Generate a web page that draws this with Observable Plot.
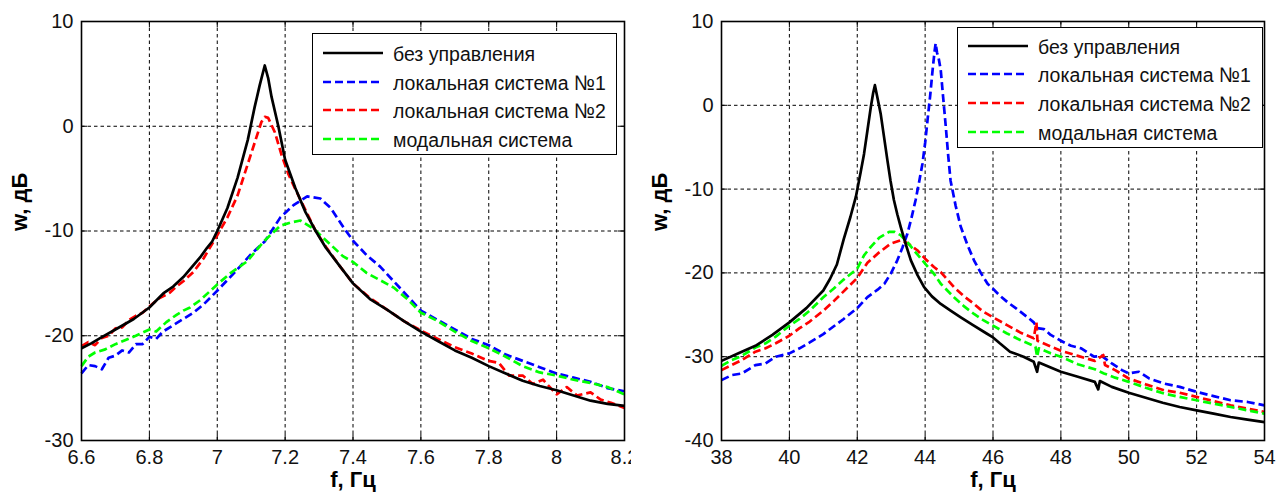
<!DOCTYPE html>
<html>
<head>
<meta charset="utf-8">
<script src="https://cdn.jsdelivr.net/npm/d3@7"></script>
<script src="https://cdn.jsdelivr.net/npm/@observablehq/plot@0.6"></script>
<style>
  html, body { margin: 0; padding: 0; background: #fff; }
  #root { position: relative; width: 1276px; height: 496px; overflow: hidden; font-family: "Liberation Sans", Arial, sans-serif; }
  .panel { position: absolute; top: 0; height: 496px; overflow: hidden; }
  .legend { position: absolute; background: #fff; border: 1.5px solid #000; box-sizing: border-box; }
  .legend .row { position: absolute; left: 0; height: 28px; display: flex; align-items: center; }
  .legend .row svg { display: block; }
  .legend .row span { font-size: 19.5px; color: #111; white-space: nowrap; margin-left: 10px; display: inline-block; transform: scaleY(1.08); }
</style>
</head>
<body>
<div id="root">
  <div class="panel" id="left" style="left:0;width:631px"></div>
  <div class="panel" id="right" style="left:640px;width:636px"></div>
</div>
<script>
// ---------- DATA ----------
const seriesNames = ["без управления", "локальная система №1", "локальная система №2", "модальная система"];
const seriesColors = ["#000000", "#0000ff", "#ff0000", "#00ff00"];

const leftXTicks = [6.6, 6.8, 7, 7.2, 7.4, 7.6, 7.8, 8, 8.2];
const leftYTicks = [-30, -20, -10, 0, 10];
const rightXTicks = [38, 40, 42, 44, 46, 48, 50, 52, 54];
const rightYTicks = [-40, -30, -20, -10, 0, 10];

// left panel: [f, w]
const leftNone = [[6.60,-21.2],[6.63,-20.7],[6.656,-20.2],[6.70,-19.4],[6.754,-18.4],[6.80,-17.3],[6.843,-15.9],[6.87,-15.3],[6.90,-14.4],[6.95,-12.5],[6.97,-11.6],[6.985,-11.0],[7.00,-10.0],[7.03,-7.8],[7.06,-4.9],[7.09,-1.3],[7.11,1.8],[7.125,3.9],[7.14,5.8],[7.15,4.6],[7.16,2.8],[7.18,0.0],[7.20,-3.2],[7.23,-5.9],[7.26,-8.2],[7.29,-10.0],[7.32,-11.6],[7.36,-13.3],[7.40,-15.0],[7.45,-16.5],[7.50,-17.5],[7.55,-18.6],[7.60,-19.6],[7.65,-20.5],[7.70,-21.4],[7.75,-22.1],[7.80,-22.9],[7.85,-23.6],[7.90,-24.3],[7.95,-24.8],[8.00,-25.2],[8.05,-25.7],[8.10,-26.2],[8.15,-26.5],[8.20,-26.7]];
const leftLoc1 = [[6.60,-23.6],[6.62,-22.8],[6.64,-22.9],[6.66,-23.2],[6.68,-22.1],[6.70,-21.9],[6.72,-21.4],[6.74,-21.6],[6.76,-20.8],[6.78,-20.8],[6.80,-20.1],[6.82,-20.3],[6.84,-19.6],[6.87,-19.0],[6.90,-18.4],[6.93,-17.8],[6.96,-17.0],[7.00,-15.7],[7.05,-14.0],[7.10,-12.2],[7.14,-11.0],[7.186,-8.7],[7.226,-7.5],[7.265,-6.7],[7.304,-6.9],[7.334,-7.8],[7.373,-9.7],[7.402,-11.0],[7.44,-12.3],[7.48,-13.4],[7.52,-14.8],[7.56,-16.2],[7.60,-17.6],[7.65,-18.5],[7.70,-19.4],[7.75,-20.3],[7.80,-20.9],[7.85,-21.8],[7.90,-22.4],[7.95,-23.0],[8.00,-23.6],[8.05,-24.0],[8.10,-24.4],[8.15,-25.0],[8.20,-25.3]];
const leftLoc2 = [[6.60,-21.0],[6.62,-20.6],[6.64,-20.9],[6.66,-20.2],[6.68,-20.0],[6.70,-19.3],[6.72,-19.2],[6.74,-18.5],[6.76,-18.1],[6.78,-17.8],[6.80,-17.2],[6.83,-16.4],[6.86,-15.9],[6.88,-15.3],[6.90,-14.8],[6.93,-13.9],[6.96,-12.6],[7.00,-10.4],[7.03,-8.7],[7.06,-6.6],[7.09,-3.6],[7.11,-1.6],[7.13,0.4],[7.14,0.9],[7.15,0.8],[7.17,-0.6],[7.19,-2.8],[7.21,-4.6],[7.23,-6.0],[7.26,-8.0],[7.29,-10.0],[7.32,-11.5],[7.36,-13.3],[7.40,-15.0],[7.45,-16.4],[7.50,-17.5],[7.55,-18.6],[7.60,-19.5],[7.65,-20.3],[7.70,-21.1],[7.75,-21.7],[7.80,-22.4],[7.83,-22.6],[7.86,-23.8],[7.90,-23.8],[7.93,-24.6],[7.96,-24.2],[8.00,-25.6],[8.03,-24.9],[8.06,-25.7],[8.10,-25.4],[8.13,-26.1],[8.16,-26.4],[8.20,-26.9]];
const leftModal = [[6.60,-22.9],[6.62,-22.0],[6.64,-21.6],[6.67,-21.3],[6.70,-20.8],[6.73,-20.4],[6.76,-20.0],[6.80,-19.4],[6.82,-19.6],[6.85,-18.7],[6.88,-18.0],[6.90,-17.6],[6.92,-17.3],[6.95,-16.6],[6.98,-15.7],[7.00,-15.1],[7.04,-14.0],[7.088,-12.9],[7.137,-11.0],[7.186,-9.5],[7.215,-9.2],[7.245,-9.0],[7.284,-9.8],[7.334,-11.3],[7.37,-12.4],[7.402,-13.0],[7.44,-14.0],[7.48,-14.7],[7.52,-15.4],[7.56,-16.5],[7.60,-17.8],[7.65,-18.6],[7.70,-19.6],[7.75,-20.5],[7.80,-21.2],[7.85,-22.0],[7.90,-22.9],[7.95,-23.5],[8.00,-23.8],[8.05,-24.2],[8.10,-24.5],[8.15,-24.9],[8.20,-25.6]];

// right panel: [f, w]
const rightNone = [[38,-30.5],[38.5,-29.6],[39,-28.7],[39.5,-27.4],[40,-25.9],[40.5,-24.2],[41,-22.1],[41.2,-20.7],[41.4,-19.0],[41.6,-16.0],[41.8,-13.3],[41.96,-10.9],[42.1,-8.0],[42.2,-5.8],[42.3,-3.0],[42.4,-0.2],[42.47,1.5],[42.52,2.4],[42.58,1.2],[42.69,-1.0],[42.79,-3.8],[42.89,-6.6],[42.98,-9.0],[43.08,-11.3],[43.18,-13.0],[43.28,-14.5],[43.43,-16.6],[43.58,-18.5],[43.78,-20.3],[43.97,-21.7],[44.2,-22.8],[44.46,-23.7],[44.75,-24.5],[45.05,-25.3],[45.4,-26.2],[45.8,-27.2],[46.0,-27.7],[46.2,-28.4],[46.5,-29.4],[46.9,-30.0],[47.2,-30.6],[47.3,-31.8],[47.35,-30.7],[47.7,-31.3],[48.0,-31.8],[48.5,-32.4],[49.0,-33.0],[49.1,-33.9],[49.15,-32.9],[49.5,-33.6],[50.0,-34.3],[50.5,-34.9],[51.0,-35.5],[51.5,-36.0],[52.0,-36.4],[52.5,-36.8],[53.0,-37.2],[53.5,-37.5],[54.0,-37.8]];
const rightLoc1 = [[38,-32.8],[38.3,-32.2],[38.6,-32.0],[39,-31.0],[39.3,-30.8],[39.6,-30.0],[40,-29.6],[40.3,-29.0],[40.6,-28.3],[41,-27.3],[41.3,-26.4],[41.6,-25.5],[42,-24.2],[42.3,-22.9],[42.6,-22.0],[42.8,-21.3],[43.0,-20.0],[43.18,-18.5],[43.33,-17.0],[43.48,-15.3],[43.6,-13.4],[43.72,-11.3],[43.82,-9.2],[43.92,-7.0],[44.0,-4.5],[44.07,-1.8],[44.15,1.2],[44.22,4.2],[44.28,6.5],[44.31,7.4],[44.35,6.3],[44.4,5.6],[44.46,4.2],[44.53,1.0],[44.61,-2.6],[44.68,-6.0],[44.75,-9.0],[44.9,-12.0],[45.05,-14.5],[45.25,-16.7],[45.44,-18.5],[45.64,-20.0],[45.84,-21.3],[46.0,-21.9],[46.2,-22.7],[46.43,-23.5],[46.7,-24.3],[47.02,-25.3],[47.2,-25.9],[47.31,-26.6],[47.5,-26.7],[47.7,-27.4],[48.0,-28.1],[48.3,-28.7],[48.6,-29.0],[48.98,-30.0],[49.2,-29.9],[49.5,-30.8],[49.8,-31.6],[50.0,-32.0],[50.3,-31.8],[50.6,-32.6],[51.04,-33.2],[51.5,-33.6],[52.0,-34.2],[52.5,-34.7],[53.0,-35.2],[53.5,-35.4],[54.0,-35.8]];
const rightLoc2 = [[38,-31.6],[38.3,-31.0],[38.6,-30.4],[39,-29.4],[39.3,-29.0],[39.6,-28.4],[40,-27.5],[40.3,-26.6],[40.6,-25.8],[41,-24.5],[41.3,-23.4],[41.6,-22.2],[42.0,-20.6],[42.3,-18.8],[42.6,-17.7],[42.99,-16.5],[43.28,-16.1],[43.5,-16.5],[43.77,-17.3],[44.0,-18.3],[44.26,-19.3],[44.46,-19.9],[44.85,-21.7],[45.15,-22.8],[45.44,-23.7],[45.7,-24.6],[46.0,-25.3],[46.4,-26.2],[46.8,-27.1],[47.2,-27.8],[47.28,-25.9],[47.31,-28.1],[47.6,-28.6],[48.0,-29.3],[48.5,-29.9],[49.0,-30.5],[49.25,-29.8],[49.3,-31.0],[49.6,-31.6],[50.0,-32.6],[50.5,-33.3],[51.04,-34.0],[51.5,-34.3],[52.0,-34.8],[52.5,-35.3],[53.0,-35.8],[53.5,-36.2],[54.0,-36.6]];
const rightModal = [[38,-31.1],[38.3,-30.4],[38.6,-29.9],[39,-28.9],[39.3,-28.4],[39.6,-27.6],[40,-26.3],[40.3,-25.5],[40.6,-24.5],[41,-22.9],[41.3,-21.9],[41.6,-20.8],[42.0,-19.5],[42.2,-17.9],[42.4,-16.9],[42.65,-15.8],[42.94,-15.1],[43.1,-15.1],[43.28,-15.5],[43.47,-16.3],[43.67,-17.3],[44.0,-18.9],[44.26,-20.1],[44.46,-21.3],[44.85,-22.9],[45.15,-24.0],[45.44,-24.9],[45.7,-25.6],[46.0,-26.3],[46.4,-27.2],[46.8,-28.0],[47.25,-28.8],[47.3,-30.0],[47.35,-29.0],[47.7,-29.6],[48.0,-30.0],[48.5,-30.9],[49.0,-31.5],[49.27,-32.0],[49.6,-32.5],[50.0,-33.0],[50.5,-33.7],[51.04,-34.4],[51.5,-34.8],[52.0,-35.2],[52.5,-35.6],[53.0,-36.0],[53.5,-36.4],[54.0,-36.8]];

const xLabel = "f, Гц";
const yLabel = "w, дБ";

// ---------- DRAW ----------
function panel({width, marginLeft, marginRight, xDomain, yDomain, xTicks, yTicks, series}) {
  const marginTop = 21, marginBottom = 56, height = 496;
  const innerH = height - marginTop - marginBottom;
  const innerW = width - marginLeft - marginRight;
  const fmt = d => String(d);
  const lineMarks = series.map((s, i) => Plot.line(s, {
    x: d => d[0], y: d => d[1],
    stroke: seriesColors[i],
    strokeWidth: 2.7,
    strokeDasharray: i === 0 ? null : "8,4",
    strokeLinejoin: "round",
    strokeLinecap: "butt"
  }));
  return Plot.plot({
    width, height, marginLeft, marginRight, marginTop, marginBottom,
    style: {fontFamily: "'Liberation Sans', Arial, sans-serif", background: "transparent", color: "#111", overflow: "visible"},
    x: {domain: xDomain},
    y: {domain: yDomain},
    marks: [
      Plot.gridX({ticks: xTicks, stroke: "#000", strokeOpacity: 1, strokeWidth: 1, strokeDasharray: "3.5,3"}),
      Plot.gridY({ticks: yTicks, stroke: "#000", strokeOpacity: 1, strokeWidth: 1, strokeDasharray: "3.5,3"}),
      // inward tick marks on all four sides
      Plot.gridX({ticks: xTicks, stroke: "#000", strokeOpacity: 1, strokeWidth: 1, insetTop: innerH - 6}),
      Plot.gridX({ticks: xTicks, stroke: "#000", strokeOpacity: 1, strokeWidth: 1, insetBottom: innerH - 6}),
      Plot.gridY({ticks: yTicks, stroke: "#000", strokeOpacity: 1, strokeWidth: 1, insetRight: innerW - 6}),
      Plot.gridY({ticks: yTicks, stroke: "#000", strokeOpacity: 1, strokeWidth: 1, insetLeft: innerW - 6}),
      ...lineMarks.slice(1),
      lineMarks[0],
      Plot.frame({stroke: "#000", strokeWidth: 1.6}),
      Plot.axisX({ticks: xTicks, tickFormat: fmt, tickSize: 0, tickPadding: 9, fontSize: 20, label: null, fill: "#111"}),
      Plot.axisY({ticks: yTicks, tickFormat: fmt, tickSize: 0, tickPadding: 8, fontSize: 20, label: null, fill: "#111"}),
      Plot.text([xLabel], {text: d => d, frameAnchor: "bottom", dy: 46, fontSize: 22, fontWeight: "bold", fill: "#000"}),
      Plot.text([yLabel], {text: d => d, frameAnchor: "left", dx: -62, rotate: -90, fontSize: 22, fontWeight: "bold", fill: "#000"})
    ]
  });
}

document.getElementById("left").appendChild(panel({
  width: 631, marginLeft: 81, marginRight: 7,
  xDomain: [6.6, 8.2], yDomain: [-30, 10],
  xTicks: leftXTicks, yTicks: leftYTicks,
  series: [leftNone, leftLoc1, leftLoc2, leftModal]
}));
document.getElementById("right").appendChild(panel({
  width: 636, marginLeft: 81, marginRight: 12,
  xDomain: [38, 54], yDomain: [-40, 10],
  xTicks: rightXTicks, yTicks: rightYTicks,
  series: [rightNone, rightLoc1, rightLoc2, rightModal]
}));

function legend(left, top, w, h, rowTops) {
  const box = document.createElement("div");
  box.className = "legend";
  Object.assign(box.style, {left: left + "px", top: top + "px", width: w + "px", height: h + "px"});
  seriesNames.forEach((name, i) => {
    const row = document.createElement("div");
    row.className = "row";
    row.style.top = rowTops[i] + "px";
    row.style.left = "10px";
    const ns = "http://www.w3.org/2000/svg";
    const svg = document.createElementNS(ns, "svg");
    svg.setAttribute("width", "60"); svg.setAttribute("height", "6");
    const ln = document.createElementNS(ns, "line");
    ln.setAttribute("x1", "0"); ln.setAttribute("x2", "60");
    ln.setAttribute("y1", "3"); ln.setAttribute("y2", "3");
    ln.setAttribute("stroke", seriesColors[i]);
    ln.setAttribute("stroke-width", "2.7");
    if (i > 0) ln.setAttribute("stroke-dasharray", "8,4");
    svg.appendChild(ln);
    const sp = document.createElement("span");
    sp.textContent = name;
    row.appendChild(svg); row.appendChild(sp);
    box.appendChild(row);
  });
  document.getElementById("root").appendChild(box);
}
legend(312, 33, 305, 122, [5, 34, 62, 91]);
legend(957, 27, 306, 121, [4, 32, 61, 90]);
</script>
</body>
</html>
